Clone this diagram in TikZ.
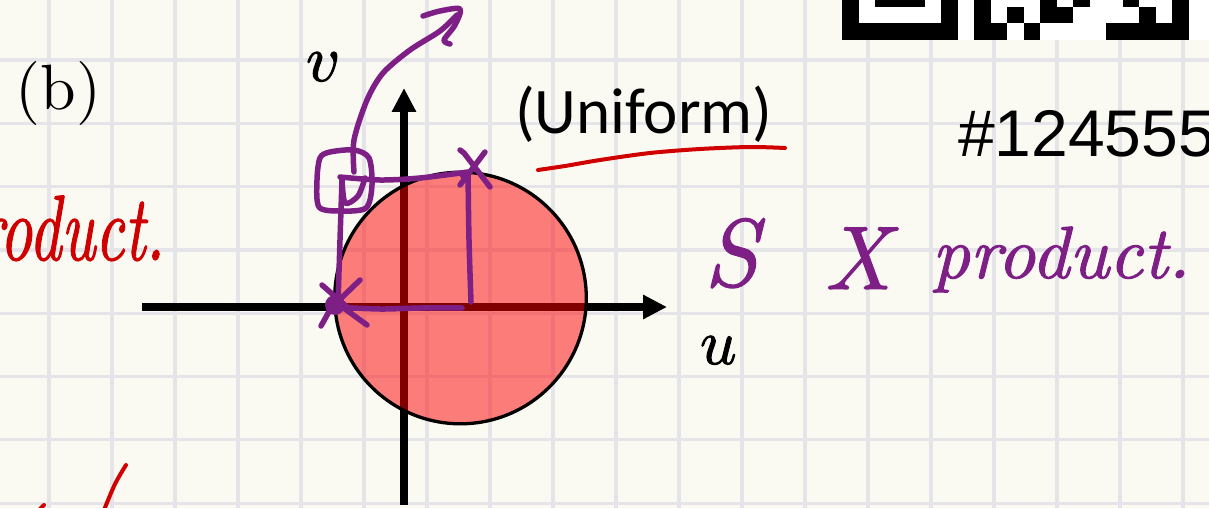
\RequirePackage{fix-cm}
\documentclass[tikz,border=0pt]{standalone}
\usepackage{fontspec}
\usepackage{graphicx}
\newfontfamily\calfont{Carlito}
\newfontfamily\arialfont{Liberation Sans}
\newfontfamily\lmten{lmroman10-regular.otf}
\newfontfamily\lmtenit{lmroman10-italic.otf}[FakeBold=1.3]
\newfontfamily\lmmath{latinmodern-math.otf}[FakeBold=1.5]
\usetikzlibrary{arrows.meta}
\definecolor{paper}{RGB}{250,250,243}
\definecolor{gridc}{RGB}{228,228,233}
\definecolor{pen}{RGB}{126,31,134}
\definecolor{redpen}{RGB}{208,0,0}
\begin{document}
\begin{tikzpicture}[x=1pt,y=-1pt,
  gridline/.style={draw=gridc,line width=3.2pt},
  axisline/.style={draw=black,line width=7.3pt,-{Triangle[length=24pt,width=23pt]}},
  penline/.style={draw=pen,line width=5.5pt,line cap=round,line join=round},
  redline/.style={draw=redpen,line width=4pt,line cap=round,line join=round},
  txt/.style={inner sep=0pt,outer sep=0pt}]
\useasboundingbox (0,0) rectangle (1209,508);
\clip (0,0) rectangle (1209,508);
% paper and grid
\fill[paper] (0,0) rectangle (1209,508);
\foreach \i in {-1,...,18} \draw[gridline] (49+63*\i,0) -- (49+63*\i,508);
\foreach \j in {-1,...,8} \draw[gridline] (0,60+63.3*\j) -- (1209,60+63.3*\j);
% QR code fragment
\fill[white] (842,0) rectangle (1209,40);
\foreach \c/\n in {0/7,8/2,11/1,16/5} \fill[black] (842+16.5*\c,23.5) rectangle ++(16.5*\n,16.5);
\foreach \c/\n in {0/1,6/1,8/1,10/1,12/2,18/1,20/1} \fill[black] (842+16.5*\c,7) rectangle ++(16.5*\n,16.5);
\foreach \c/\n in {0/1,2/3,6/1,8/1,12/1,14/1,17/1,20/1} \fill[black] (842+16.5*\c,-9.5) rectangle ++(16.5*\n,16.5);
% axes
\draw[axisline] (142,307) -- (667,307);
\draw[axisline] (404,505) -- (404,88);
% disc
\fill[red,fill opacity=0.5] (460.5,298) circle[radius=125.8pt];
\draw[black,line width=3.3pt] (460.5,298) circle[radius=125.8pt];
% labels
\node[txt,anchor=base west] (lb) at (16,110) {\lmten\fontsize{64}{64}\selectfont (b)};
\node[txt,anchor=base west] (lv) at (306,81) {\lmmath\fontsize{66}{66}\selectfont 𝑣};
\node[txt,anchor=base west] (lu) at (700,364) {\lmmath\fontsize{64}{64}\selectfont 𝑢};
\node[txt,anchor=base west] (lunif) at (515,133) {\calfont\fontsize{65}{65}\selectfont (Uniform)};
\node[txt,anchor=base west] (lnum) at (958,157) {\arialfont\fontsize{66}{66}\selectfont \#124555};
% handwriting as text
\node[txt,anchor=base west,text=redpen] (lred) at (-56,260) {\scalebox{0.68}[1]{\lmtenit\fontsize{93}{93}\selectfont product.}};
\node[txt,anchor=base west,text=pen] (ls) at (704,286) {\lmtenit\fontsize{96}{96}\selectfont S};
\node[txt,anchor=base west,text=pen] (lx) at (824,289) {\lmtenit\fontsize{90}{90}\selectfont X};
\node[txt,anchor=base west,text=pen] (lprod) at (932,278) {\lmtenit\fontsize{74}{74}\selectfont product.};
% red strokes
\draw[redline] plot[smooth] coordinates {(538,170) (565,166) (600,160) (650,153) (700,149) (750,147) (785,148)};
\draw[redline] plot[smooth] coordinates {(126,465) (115,484) (104,510)};
\draw[redline] (40,509) -- (44,505);
% purple strokes
\draw[penline] plot[smooth] coordinates {(354,172) (354,140) (367,100) (383,73) (410,50) (440,31) (457,15)};
\draw[penline] plot[smooth] coordinates {(423,16) (440,11) (460,9) (455,25) (444,40) (450,44)};
\draw[penline] plot[smooth cycle] coordinates {(330,152) (354,150) (369,158) (372,185) (366,208) (340,211) (319,207) (317,180) (320,158)};
\draw[penline] plot[smooth] coordinates {(342,178) (345,203) (358,196) (365,178)};
\draw[penline] plot[smooth] coordinates {(340,177) (380,180) (420,178) (468,172)};
\draw[penline] plot[smooth] coordinates {(342,180) (340,240) (338,303)};
\draw[penline] plot[smooth] coordinates {(468,173) (469,240) (471,302)};
\draw[penline] plot[smooth] coordinates {(332,307) (380,309) (420,308) (462,308)};
\fill[pen] (335,305) circle[radius=10pt];
\draw[penline] (322,285) -- (347,307);
\draw[penline] (360,280) -- (331,308) -- (321,326);
\draw[penline] (345,309) -- (367,325);
\draw[penline] (460,150) -- (464,153) -- (490,187);
\draw[penline] (485,152) -- (460,185);
\fill[pen] (465,176) circle[radius=5pt];
\end{tikzpicture}
\end{document}
